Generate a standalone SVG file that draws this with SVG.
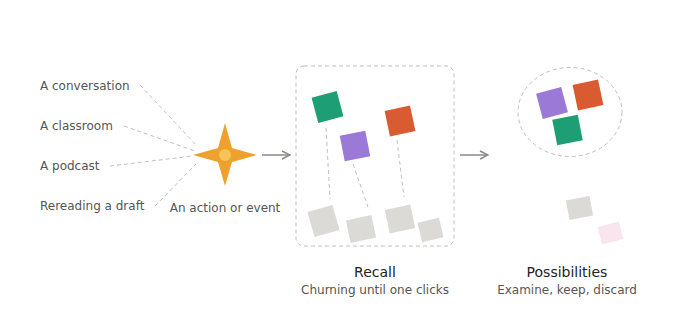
<svg xmlns="http://www.w3.org/2000/svg" width="680" height="330" viewBox="0 0 680 330">
<defs>
<marker id="arr" viewBox="0 0 10 10" refX="9" refY="5" markerWidth="10" markerHeight="10" markerUnits="userSpaceOnUse" orient="auto">
<path d="M1,1 L9,5 L1,9" fill="none" stroke="#8a8a86" stroke-width="1.5"/>
</marker>
<style>
.lbl{font-family:"DejaVu Sans",sans-serif;font-size:12px;fill:#555}
.ttl{font-family:"DejaVu Sans",sans-serif;font-size:14px;fill:#222;text-anchor:middle}
.sub{font-family:"DejaVu Sans",sans-serif;font-size:12px;fill:#555;text-anchor:middle}
.dash{stroke:#c2c0bb;stroke-width:1;stroke-dasharray:4 3;fill:none}
.flow{stroke:#8a8a86;stroke-width:1.5;fill:none}
.green{fill:#1e9e74}
.purple{fill:#9b79d6}
.orange{fill:#d95b32}
.gray{fill:#dcdad7}
.pink{fill:#f9e5ee}
</style>
</defs>
<rect width="680" height="330" fill="#fff"/>

<g id="connectors">
<line class="dash" x1="140" y1="85" x2="196" y2="145"/>
<line class="dash" x1="124" y1="126" x2="195" y2="151"/>
<line class="dash" x1="110" y1="166" x2="193" y2="156"/>
<line class="dash" x1="155" y1="206" x2="196" y2="164"/>
<line class="dash" x1="326" y1="128" x2="330" y2="199"/>
<line class="dash" x1="353" y1="164" x2="368" y2="207"/>
<line class="dash" x1="397" y1="140" x2="404" y2="197"/>
<line class="flow" x1="262" y1="155" x2="290" y2="155" marker-end="url(#arr)"/>
<line class="flow" x1="460" y1="155" x2="488" y2="155" marker-end="url(#arr)"/>
</g>

<g id="sources">
<text class="lbl" x="40" y="90">A conversation</text>
<text class="lbl" x="40" y="130">A classroom</text>
<text class="lbl" x="40" y="170">A podcast</text>
<text class="lbl" x="40" y="210">Rereading a draft</text>
</g>

<g id="event">
<path d="M225,123 L232,148 L257,155 L232,162 L225,186 L218,162 L193,155 L218,148 Z" fill="#efa12d"/>
<circle cx="225" cy="155" r="6" fill="#f4c458"/>
<text class="lbl" x="225" y="212" text-anchor="middle">An action or event</text>
</g>

<g id="recall">
<rect x="296" y="66" width="158" height="180" rx="8" class="dash"/>
<rect class="green" x="-13" y="-13" width="26" height="26" transform="translate(327.5,107) rotate(-15)"/>
<rect class="purple" x="-13" y="-13" width="26" height="26" transform="translate(355,146) rotate(-11)"/>
<rect class="orange" x="-13" y="-13" width="26" height="26" transform="translate(400,121) rotate(-12)"/>
<rect class="gray" x="-13" y="-13" width="26" height="26" transform="translate(323.5,221) rotate(-16)"/>
<rect class="gray" x="-13" y="-11.5" width="26" height="23" transform="translate(361,229) rotate(-12)"/>
<rect class="gray" x="-13" y="-12" width="26" height="24" transform="translate(400,219) rotate(-12)"/>
<rect class="gray" x="-11" y="-10" width="22" height="20" transform="translate(430.5,230) rotate(-13)"/>
<text class="ttl" x="375" y="277">Recall</text>
<text class="sub" x="375" y="294">Churning until one clicks</text>
</g>

<g id="possibilities">
<ellipse cx="570" cy="112" rx="52" ry="44.5" class="dash"/>
<rect class="purple" x="-13" y="-13" width="26" height="26" transform="translate(552,103) rotate(-15)"/>
<rect class="orange" x="-13" y="-13" width="26" height="26" transform="translate(588,95) rotate(-12)"/>
<rect class="green" x="-13" y="-13" width="26" height="26" transform="translate(567.5,130) rotate(-11)"/>
<rect class="gray" x="-12" y="-10" width="24" height="20" transform="translate(579.5,208) rotate(-11)"/>
<rect class="pink" x="-11" y="-9" width="22" height="18" transform="translate(610.5,233) rotate(-14)"/>
<text class="ttl" x="567" y="277">Possibilities</text>
<text class="sub" x="567" y="294">Examine, keep, discard</text>
</g>
</svg>
